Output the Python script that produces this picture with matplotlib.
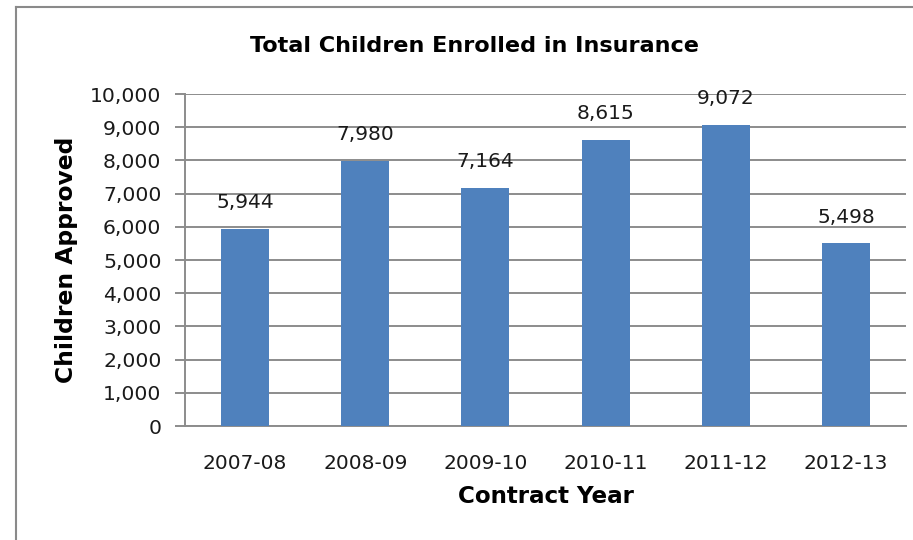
import matplotlib
matplotlib.use("Agg")
import matplotlib.pyplot as plt
from matplotlib.lines import Line2D
from matplotlib.ticker import FuncFormatter, MultipleLocator

years = ["2007-08", "2008-09", "2009-10", "2010-11", "2011-12", "2012-13"]
children = [5944, 7980, 7164, 8615, 9072, 5498]

W, H = 913, 540
fig = plt.figure(figsize=(W / 100, H / 100), dpi=100)
plt.rcParams["font.family"] = ["DejaVu Sans"]

grid_c = "#8c8c8c"
bar_c = "#4F81BD"

ax = fig.add_axes([185 / W, 1 - 426 / H, (906 - 185) / W, (426 - 94) / H])
x = list(range(len(years)))
bars = ax.bar(x, children, width=0.4, color=bar_c, zorder=3)

ax.set_xlim(-0.5, len(years) - 0.5)
ax.set_ylim(0, 10000)
ax.yaxis.set_major_locator(MultipleLocator(1000))
ax.yaxis.set_major_formatter(FuncFormatter(lambda v, p: f"{int(v):,}"))
ax.grid(axis="y", color=grid_c, linewidth=1.4, zorder=0)
ax.set_xticks(x)
ax.set_xticklabels(years)

for s in ["top", "right"]:
    ax.spines[s].set_visible(False)
for s in ["left", "bottom"]:
    ax.spines[s].set_color(grid_c)
    ax.spines[s].set_linewidth(1.4)

ax.tick_params(axis="y", length=7, width=1.4, color=grid_c, pad=10,
               labelsize=14.7, labelcolor="#1a1a1a")
ax.tick_params(axis="x", length=0, pad=20, labelsize=14.5, labelcolor="#1a1a1a")

for xi, v in zip(x, children):
    ax.annotate(f"{v:,}", (xi, v), xytext=(0, 12), textcoords="offset points",
                ha="center", va="bottom", fontsize=14.5, color="#1a1a1a")

ax.set_ylabel("Children Approved", fontsize=16.8, fontweight="bold", labelpad=9)
ax.set_xlabel("Contract Year", fontsize=16.6, fontweight="bold", labelpad=9)
fig.text(474 / W, 1 - 46 / H, "Total Children Enrolled in Insurance",
         ha="center", va="center", fontsize=16.1, fontweight="bold")

# chart frame
fig.add_artist(Line2D([16 / W, 16 / W], [0, 1 - 7 / H], color="#8a8a8a",
                      linewidth=1.5, transform=fig.transFigure))
fig.add_artist(Line2D([16 / W, 1], [1 - 7 / H, 1 - 7 / H], color="#8a8a8a",
                      linewidth=1.5, transform=fig.transFigure))

fig.savefig("out.png", dpi=100)
